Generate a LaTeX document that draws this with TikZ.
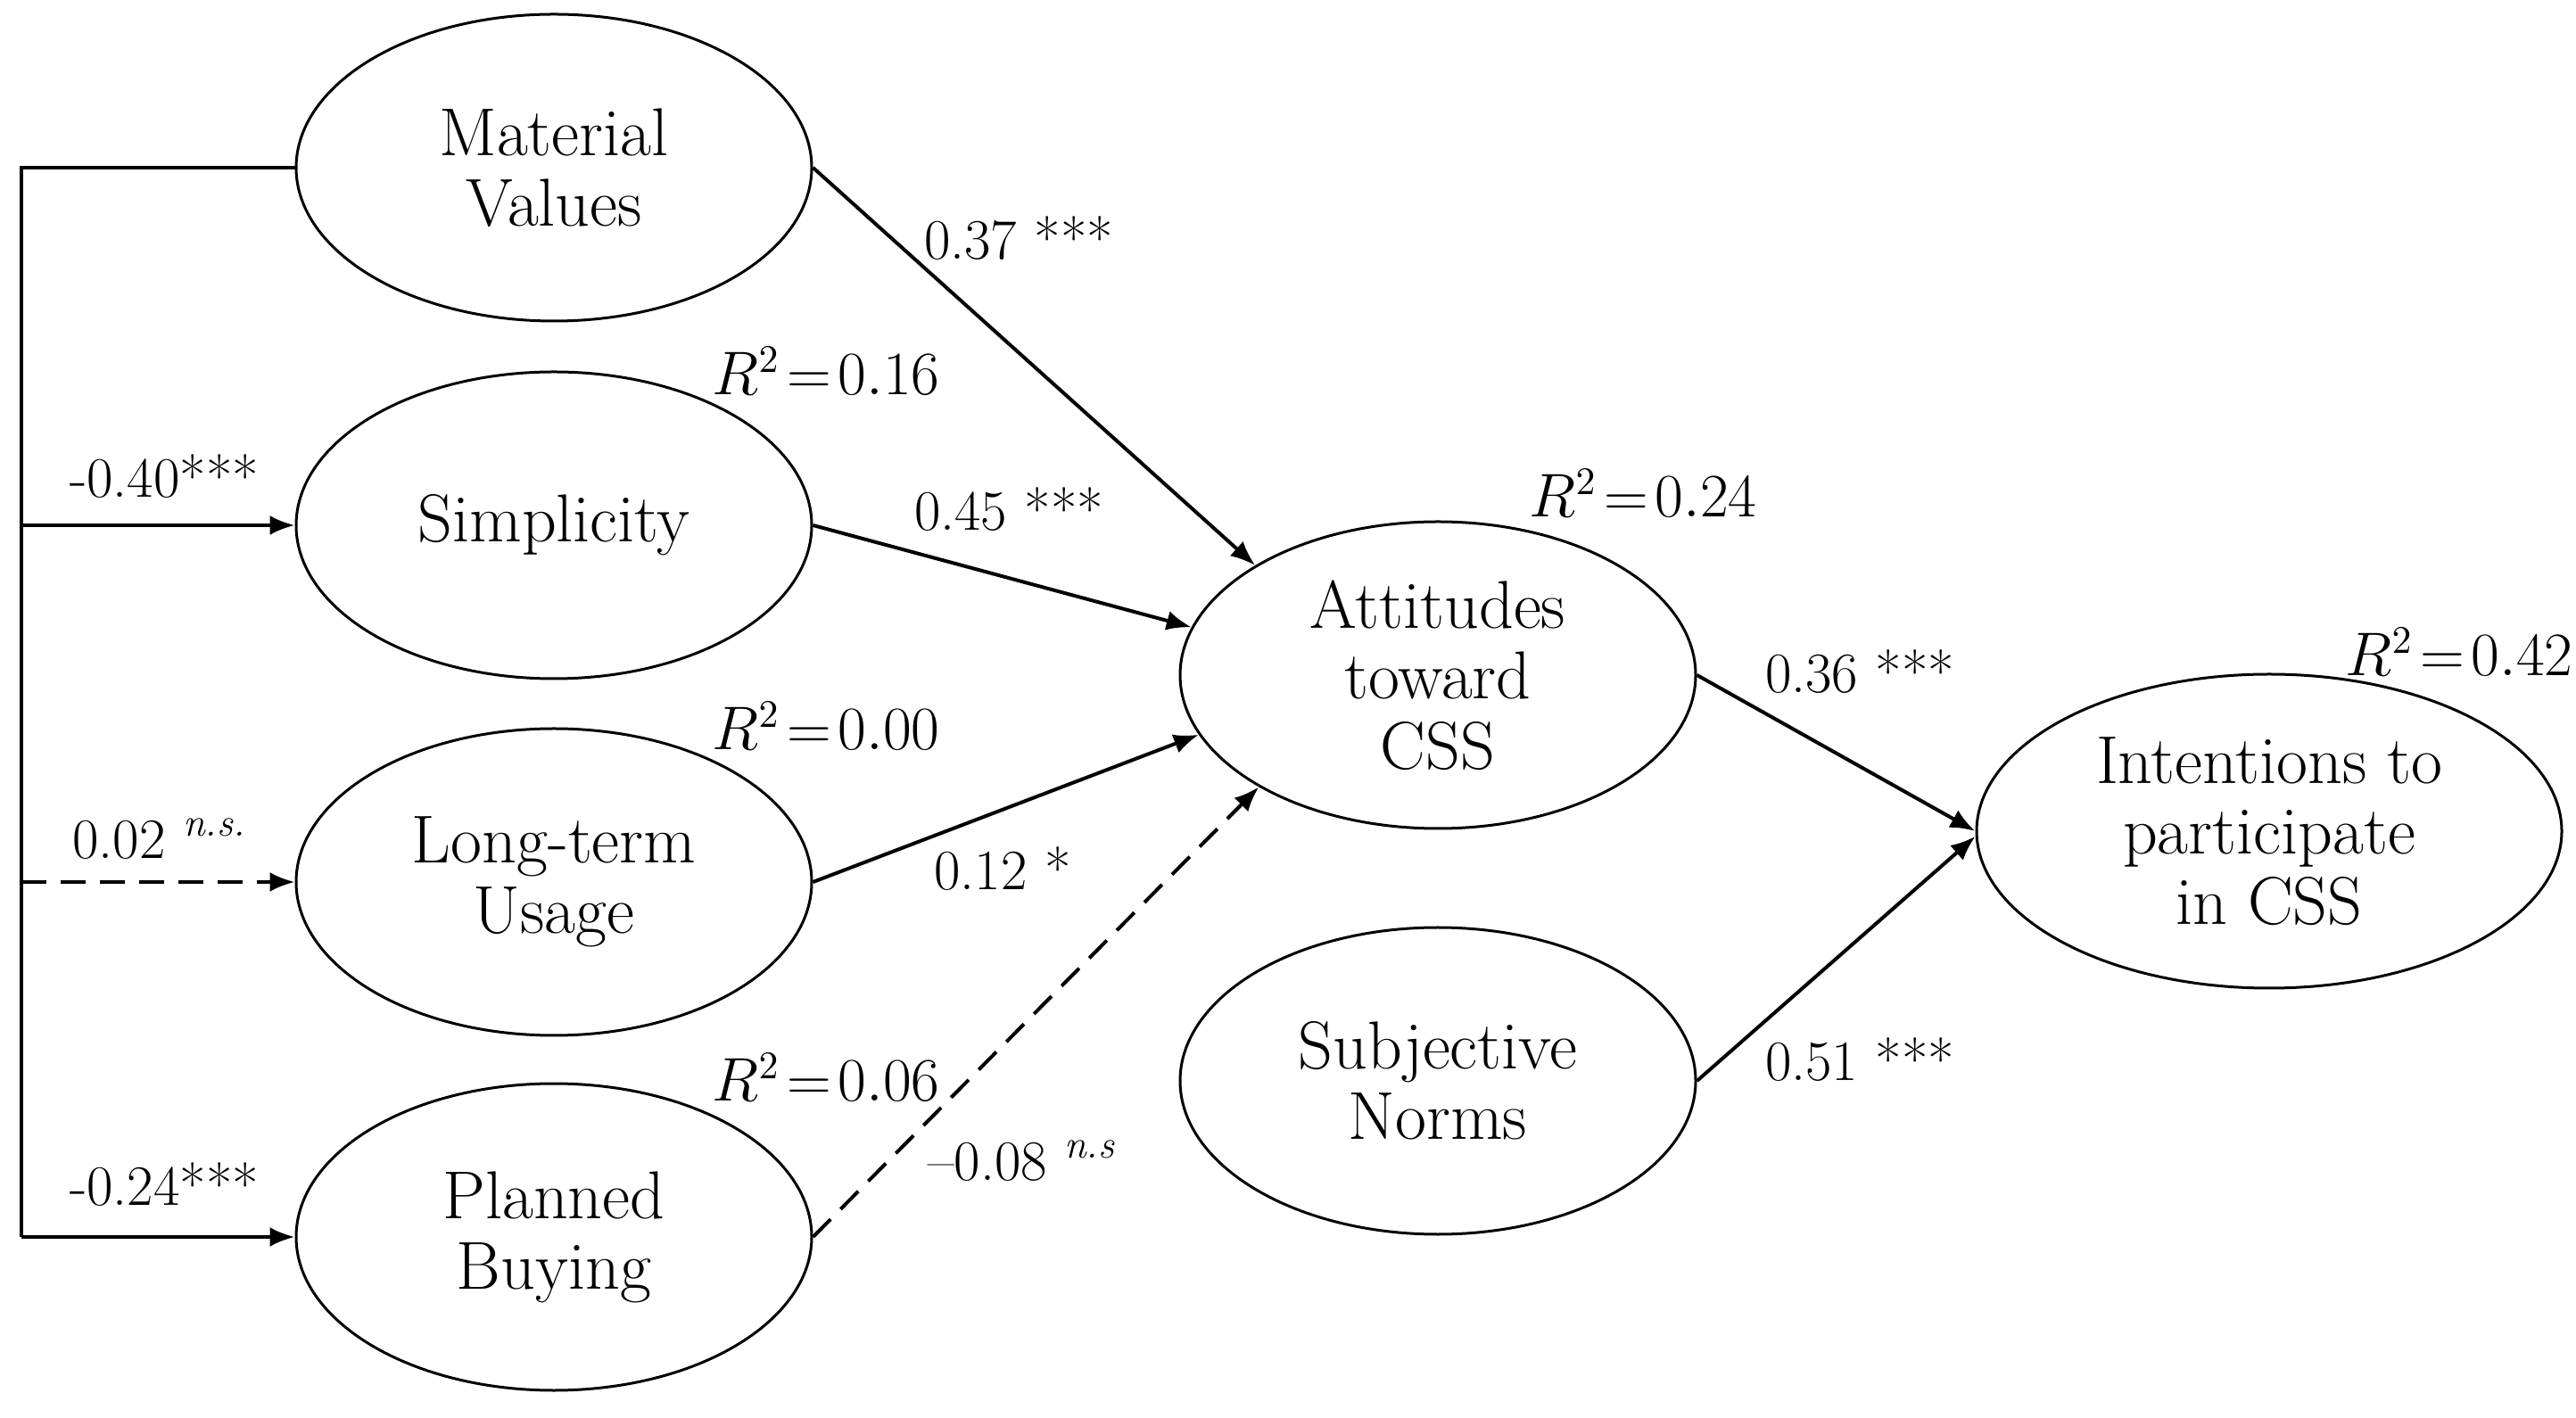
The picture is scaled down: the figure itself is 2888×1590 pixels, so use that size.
\documentclass[tikz,border=0pt]{standalone}
\usetikzlibrary{arrows.meta,shapes.geometric}
\begin{document}
\begin{tikzpicture}[x=0.25pt,y=-0.25pt,
  lat/.style={ellipse,draw,line width=0.75pt,minimum width=144.5pt,minimum height=86pt,inner sep=0pt,align=center,font=\fontsize{19}{19.75}\selectfont},
  latw/.style={lat,minimum width=164pt,minimum height=88pt},
  lab/.style={font=\fontsize{16}{19}\selectfont,inner sep=0pt},
  conn/.style={line width=1pt},
  arr/.style={conn,-{Latex[length=7pt,width=5.5pt]}},
  dsh/.style={dash pattern=on 7pt off 4pt}]
\useasboundingbox (0,0) rectangle (2888,1590);
% nodes
\node[lat] (mv) at (621,188) {Material\\Values};
\node[lat] (simp) at (621,589) {Simplicity};
\node[lat] (ltu) at (621,989) {Long-term\\Usage};
\node[lat] (pb) at (621,1387) {Planned\\Buying};
\node[lat] (att) at (1612,757) {Attitudes\\toward\\CSS};
\node[lat] (sn) at (1612,1212) {Subjective\\Norms};
\node[latw] (int) at (2544,932) {Intentions to\\participate\\in CSS};
% left bracket
\coordinate (c1) at (24,188);
\coordinate (c4) at (24,1387);
\draw[conn,line width=1.2pt] (mv.west) -- (c1) -- (c4);
\draw[arr] (c4) -- (pb.west);
\draw[arr] (simp.west -| c1) -- (simp.west);
\draw[arr,dsh] (ltu.west -| c1) -- (ltu.west);
% paths to attitudes
\draw[arr] (mv.east) -- (att.149);
\draw[arr] (simp.east) -- (att.169);
\draw[arr] (ltu.east) -- (att.194);
\draw[arr,dsh] (pb.east) -- (att.212);
% paths to intentions
\draw[arr] (att.east) -- (int.west);
\draw[arr] (sn.east) -- (int.181);
% labels
\node[lab] (l1) at (184,534) {-0.40***};
\node[lab] (l2) at (179,941) {0.02 \textsuperscript{\textit{n.s.}}};
\node[lab] (l3) at (184,1328) {-0.24***};
\node[lab] (l4) at (1142,267) {0.37 ***};
\node[lab] (l5) at (1131,571) {0.45 ***};
\node[lab] (l6) at (1124,974) {0.12 *};
\node[lab] (l7) at (1146,1302) {--0.08 \textsuperscript{\textit{n.s}}};
\node[lab] (l8) at (2085,753) {0.36 ***};
\node[lab] (l9) at (2085,1188) {0.51 ***};
\node[lab] (r1) at (926,416) {$R^2\mkern2mu{=}\mkern2mu0.16$};
\node[lab] (r2) at (926,814) {$R^2\mkern2mu{=}\mkern2mu0.00$};
\node[lab] (r3) at (926,1208) {$R^2\mkern2mu{=}\mkern2mu0.06$};
\node[lab] (r4) at (1842,553) {$R^2\mkern2mu{=}\mkern2mu0.24$};
\node[lab] (r5) at (2757,731) {$R^2\mkern2mu{=}\mkern2mu0.42$};
\end{tikzpicture}
\end{document}
